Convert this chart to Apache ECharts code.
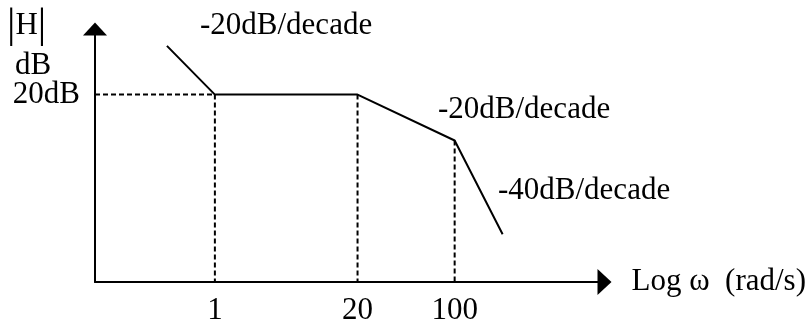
<!DOCTYPE html>
<html>
<head>
<meta charset="utf-8">
<script src="https://cdn.jsdelivr.net/npm/echarts@6/dist/echarts.min.js"></script>
<style>html,body{margin:0;padding:0;background:#fff;}#c{width:809px;height:326px;}</style>
</head>
<body>
<div id="c"></div>
<script>
// ---- data ----
// x axis: position along the log-frequency axis, in decades from ω = 1
const freqLabels = ['1', '20', '100'];
const freqPos = [0, 1.19, 2];
// asymptotic magnitude curve (y in dB-like units, 20 = the 20dB level)
const curveX = [-0.4, 0, 1.19, 2, 2.4];
const curveY = [25.2, 20, 20, 15.1, 5.1];
const levelDb = 20;
const levelLabel = '20dB';
const slopeLabels = ['-20dB/decade', '-20dB/decade', '-40dB/decade'];
const xName = 'Log \u03c9  (rad/s)';
const yNameTop = 'H';
const yNameBottom = 'dB';

const FONT = "'Liberation Serif', 'Times New Roman', serif";
const xMin = -1, xMax = 3.25, yMin = 0, yMax = 27;

const curveData = curveX.map((x, i) => [x, curveY[i]]);
const dashStyle = { color: '#000', width: 2, type: [5, 3] };

const series = [{
  type: 'line', data: curveData, symbol: 'none', silent: true,
  lineStyle: { color: '#000', width: 2 }, z: 5
}, {
  type: 'line', data: [[xMin, levelDb], [freqPos[0], levelDb]], symbol: 'none', silent: true,
  lineStyle: dashStyle
}];
freqPos.forEach((x) => {
  const yTop = curveY[curveX.indexOf(x)];
  series.push({
    type: 'line', data: [[x, yTop], [x, yMin]], symbol: 'none', silent: true,
    lineStyle: dashStyle
  });
});

function textEl(text, left, top) {
  return { type: 'text', left: left, top: top, silent: true,
    style: { text: text, font: '31px ' + FONT, fill: '#000' } };
}

const chart = echarts.init(document.getElementById('c'), null, { renderer: 'canvas' });
chart.setOption({
  backgroundColor: '#fff',
  animation: false,
  grid: { left: 95, right: 204, top: 29, bottom: 38, containLabel: false },
  xAxis: {
    type: 'value', min: xMin, max: xMax,
    name: xName, nameLocation: 'end', nameGap: 27,
    nameTextStyle: { fontFamily: FONT, fontSize: 31, color: '#000', verticalAlign: 'middle' },
    axisLine: { show: true, onZero: false, symbol: ['none', 'triangle'], symbolSize: [26, 14],
      lineStyle: { color: '#000', width: 2 } },
    axisTick: { show: false },
    splitLine: { show: false },
    axisLabel: {
      customValues: freqPos, margin: 13,
      fontFamily: FONT, fontSize: 31, color: '#000',
      formatter: function (v) {
        const i = freqPos.findIndex(p => Math.abs(p - v) < 1e-6);
        return i >= 0 ? freqLabels[i] : '';
      }
    }
  },
  yAxis: {
    type: 'value', min: yMin, max: yMax, interval: levelDb,
    axisLine: { show: true, onZero: false, symbol: ['none', 'triangle'], symbolSize: [24, 13],
      lineStyle: { color: '#000', width: 2 } },
    axisTick: { show: false },
    splitLine: { show: false },
    axisLabel: {
      margin: 15, fontFamily: FONT, fontSize: 31, color: '#000',
      formatter: function (v) { return v === levelDb ? levelLabel : ''; }
    }
  },
  graphic: [
    { type: 'text', left: 7, top: 5, silent: true,
      style: { text: '{v||}' + yNameTop + '{v||}', font: '31px ' + FONT, fill: '#000',
        rich: { v: { fontSize: 42, fontFamily: FONT, fill: '#000', verticalAlign: 'middle' } } } },
    textEl(yNameBottom, 15, 50),
    textEl(slopeLabels[0], 200, 10),
    textEl(slopeLabels[1], 438, 94),
    textEl(slopeLabels[2], 498, 175)
  ],
  series: series
});
</script>
</body>
</html>
